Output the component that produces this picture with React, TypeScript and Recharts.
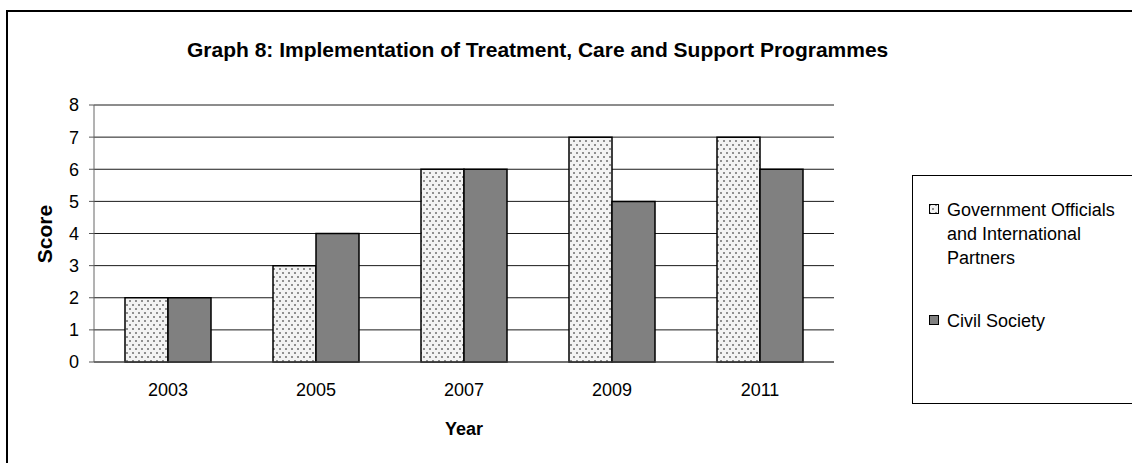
import { Bar, BarChart, CartesianGrid, XAxis, YAxis } from 'recharts';

const years = ['2003', '2005', '2007', '2009', '2011'];
const govScores = [2, 3, 6, 7, 7];
const civilScores = [2, 4, 6, 5, 6];
const seriesNames = ['Government Officials and International Partners', 'Civil Society'];
const yTicks = [0, 1, 2, 3, 4, 5, 6, 7, 8];
const edgeTicks = [0, 1, 2, 3, 4, 5];

const data = years.map((year, i) => ({ year, gov: govScores[i], civil: civilScores[i] }));

const font = 'Liberation Sans, Arial, sans-serif';

// stippled fill like the old Excel "dotted" pattern
function DotsPattern({ id }: { id: string }) {
    return (
        <pattern id={id} width="6" height="8" patternUnits="userSpaceOnUse">
            <rect width="6" height="8" fill="#f3f3f3" />
            <rect x="0" y="0" width="2" height="2" fill="#8f8f8f" />
            <rect x="3" y="4" width="2" height="2" fill="#8f8f8f" />
        </pattern>
    );
}

function Swatch({ fill }: { fill: string }) {
    return (
        <svg width="11" height="11" style={{ position: 'absolute', left: 0, top: 6 }}>
            <defs>
                <DotsPattern id="dotsLegend" />
            </defs>
            <rect x="0.5" y="0.5" width="9" height="9" fill={fill} stroke="#000" strokeWidth={1} />
        </svg>
    );
}

export default function App() {
    return (
        <div style={{ position: 'absolute', left: 0, top: 0, width: 1132, height: 463, overflow: 'hidden', background: '#fff', fontFamily: font }}>
            <div style={{ position: 'absolute', left: 6, top: 10, width: 1200, height: 500, border: '2px solid #000' }} />

            <div style={{ position: 'absolute', left: 187, top: 39, fontSize: 21, lineHeight: '21px', fontWeight: 'bold', whiteSpace: 'nowrap', color: '#000' }}>
                Graph 8: Implementation of Treatment, Care and Support Programmes
            </div>

            <div style={{ position: 'absolute', left: 0, top: 0 }}>
                <BarChart width={1132} height={463} data={data} margin={{ top: 105, right: 298, bottom: 0, left: 34 }} barGap={0}>
                    <defs>
                        <DotsPattern id="dotsBar" />
                    </defs>
                    <CartesianGrid vertical={false} stroke="#1a1a1a" strokeWidth={1} />
                    <XAxis
                        xAxisId="edges"
                        type="number"
                        domain={[0, years.length]}
                        ticks={edgeTicks}
                        allowDataOverflow
                        height={0}
                        tick={false}
                        tickSize={5}
                        axisLine={false}
                        tickLine={{ stroke: '#555' }}
                    />
                    <XAxis
                        dataKey="year"
                        height={101}
                        tickLine={false}
                        tickSize={0}
                        tickMargin={21}
                        axisLine={{ stroke: '#555' }}
                        tick={{ fontSize: 18, fill: '#000', fontFamily: font }}
                    />
                    <YAxis
                        domain={[0, 8]}
                        ticks={yTicks}
                        width={60}
                        tickSize={5}
                        tickMargin={10}
                        axisLine={{ stroke: '#666' }}
                        tickLine={{ stroke: '#555' }}
                        tick={{ fontSize: 18, fill: '#000', fontFamily: font }}
                    />
                    <Bar dataKey="gov" name={seriesNames[0]} fill="url(#dotsBar)" stroke="#000" strokeWidth={1.5} barSize={43} isAnimationActive={false} />
                    <Bar dataKey="civil" name={seriesNames[1]} fill="#808080" stroke="#000" strokeWidth={1.5} barSize={43} isAnimationActive={false} />
                </BarChart>
            </div>

            <div style={{ position: 'absolute', left: -5, top: 224, width: 100, height: 20, lineHeight: '20px', textAlign: 'center', fontSize: 21, fontWeight: 'bold', transform: 'rotate(-90deg)' }}>
                Score
            </div>
            <div style={{ position: 'absolute', left: 94, top: 420, width: 740, textAlign: 'center', fontSize: 18, lineHeight: '18px', fontWeight: 'bold' }}>
                Year
            </div>

            <div style={{ position: 'absolute', left: 912, top: 175, width: 400, height: 227, border: '1px solid #000', borderRightWidth: 0, fontSize: 18, lineHeight: '24px', color: '#000' }}>
                <div style={{ position: 'absolute', left: 16, top: 22, width: 200 }}>
                    <Swatch fill="url(#dotsLegend)" />
                    <div style={{ marginLeft: 18, width: 180 }}>{seriesNames[0]}</div>
                </div>
                <div style={{ position: 'absolute', left: 16, top: 133, width: 200 }}>
                    <Swatch fill="#808080" />
                    <div style={{ marginLeft: 18 }}>{seriesNames[1]}</div>
                </div>
            </div>
        </div>
    );
}
